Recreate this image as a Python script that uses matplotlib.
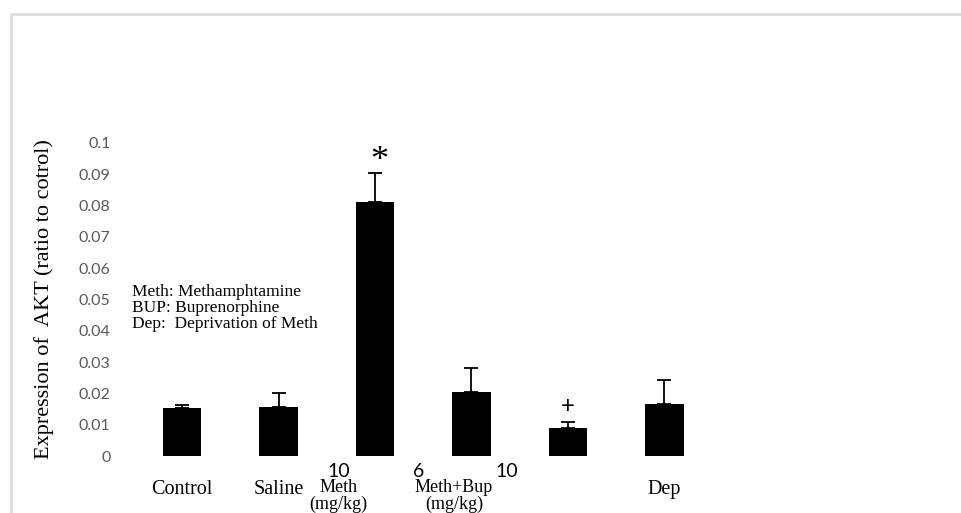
import numpy as np
import matplotlib.pyplot as plt
from matplotlib.patches import Rectangle

# values
groups = ['Control', 'Saline', 'Meth 10', 'Meth+Bup 6', 'Meth+Bup 10', 'Dep']
means = [0.0153, 0.0157, 0.0811, 0.0205, 0.0089, 0.0166]
errs = [0.0010, 0.0044, 0.0093, 0.0075, 0.0020, 0.0077]
yticks = [0, 0.01, 0.02, 0.03, 0.04, 0.05, 0.06, 0.07, 0.08, 0.09, 0.1]
ytick_labels = ['0', '0.01', '0.02', '0.03', '0.04', '0.05', '0.06', '0.07', '0.08', '0.09', '0.1']
legend_lines = ['Meth: Methamphtamine', 'BUP: Buprenorphine', 'Dep:  Deprivation of Meth']

fig = plt.figure(figsize=(9.62, 5.13), dpi=100)
W, H = 962, 513
ax = fig.add_axes([134 / W, (H - 456) / H, 578.5 / W, 313 / H])

x = np.arange(len(groups))
ax.bar(x, means, width=0.4, color='black', zorder=2)
# only the upper half of the error bar shows above the bar
ax.errorbar(x, [m + e / 2 for m, e in zip(means, errs)], yerr=[[e / 2 for e in errs], [e / 2 for e in errs]],
            fmt='none', ecolor='black', elinewidth=1.3, capsize=5, capthick=1.3, zorder=1)

ax.set_xlim(-0.5, len(groups) - 0.5)
ax.set_ylim(0, 0.1)
ax.set_yticks(yticks)
ax.set_yticklabels(ytick_labels, fontfamily='Lato', fontsize=11.5, color='#595959')
ax.tick_params(axis='y', length=0, pad=17)
ax.set_xticks([])
for s in ax.spines.values():
    s.set_visible(False)

ax.set_ylabel('Expression of  AKT (ratio to cotrol)', fontfamily='Liberation Serif', fontsize=16,
              labelpad=18)

# category labels under the bars
tr = ax.get_xaxis_transform()
serif = dict(fontfamily='Liberation Serif', fontsize=14.5, ha='center', va='center', transform=tr)
sans = dict(fontfamily='Lato', fontsize=14, ha='center', va='center', transform=tr)
ax.text(0, -0.108, 'Control', **serif)
ax.text(1, -0.108, 'Saline', **serif)
ax.text(5, -0.108, 'Dep', **serif)
two_line = dict(fontfamily='Liberation Serif', fontsize=13, ha='center', va='top', linespacing=0.95,
                transform=tr)
ax.text(1.62, -0.074, 'Meth\n(mg/kg)', **two_line)
ax.text(2.82, -0.074, 'Meth+Bup\n(mg/kg)', **two_line)
ax.text(1.62, -0.048, '10', **sans)
ax.text(2.45, -0.048, '6', **sans)
ax.text(3.37, -0.048, '10', **sans)

# significance marks
ax.text(2.04, 0.0942, '*', fontfamily='Liberation Serif', fontsize=26, ha='center', va='center')
ax.text(4.0, 0.0157, '+', fontfamily='Lato', fontsize=17, ha='center', va='center')

# abbreviations
for i, line in enumerate(legend_lines):
    ax.text(-0.525, 0.0524 - i * 0.0051, line, fontfamily='Liberation Serif', fontsize=12.5,
            ha='left', va='center')

# light frame around the chart area
fig.patches.append(Rectangle((11 / W, -0.1), 1.2, 1.1 - 14 / H, transform=fig.transFigure,
                             fill=False, edgecolor='#d9d9d9', linewidth=1.8))

fig.savefig('out.png', dpi=100)
